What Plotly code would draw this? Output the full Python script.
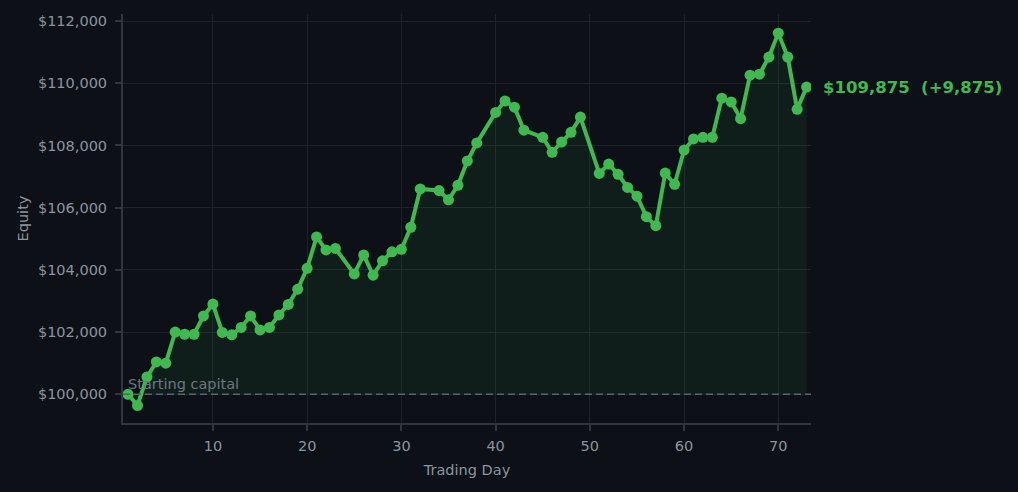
import plotly.graph_objects as go

days = [1, 2, 3, 4, 5, 6, 7, 8, 9, 10, 11, 12, 13, 14, 15, 16, 17, 18, 19, 20,
        21, 22, 23, 25, 26, 27, 28, 29, 30, 31, 32, 34, 35, 36, 37, 38, 40, 41, 42, 43,
        45, 46, 47, 48, 49, 51, 52, 53, 54, 55, 56, 57, 58, 59, 60, 61, 62, 63, 64, 65,
        66, 67, 68, 69, 70, 71, 72, 73]
equity = [100000, 99640, 100556, 101040, 101000, 102000, 101930, 101930, 102520, 102900,
          101990, 101910, 102150, 102520, 102070, 102150, 102550, 102890, 103380, 104050,
          105060, 104640, 104690, 103870, 104480, 103830, 104290, 104580, 104660, 105370,
          106600, 106550, 106250, 106720, 107500, 108080, 109060, 109430, 109230, 108490,
          108260, 107780, 108110, 108420, 108910, 107100, 107400, 107070, 106650, 106370,
          105710, 105420, 107110, 106750, 107850, 108210, 108260, 108260, 109520, 109400,
          108860, 110260, 110290, 110840, 111610, 110840, 109160, 109875]
start_capital = 100000
y_ticks = [100000, 102000, 104000, 106000, 108000, 110000, 112000]
y_tick_labels = ["$100,000", "$102,000", "$104,000", "$106,000", "$108,000", "$110,000", "$112,000"]
x_ticks = [10, 20, 30, 40, 50, 60, 70]

BG = "#0d1117"
GRID = "#1e232a"
AXIS = "#30363d"
TEXT = "#8b949e"
GREEN = "#3fb950"
FONT = "DejaVu Sans"
FS = 14.5

fig = go.Figure()
fig.add_trace(go.Scatter(x=days, y=[start_capital] * len(days), mode="lines",
                         line=dict(width=0), hoverinfo="skip", showlegend=False))
fig.add_trace(go.Scatter(x=days, y=equity, mode="lines+markers",
                         line=dict(color=GREEN, width=4),
                         marker=dict(color=GREEN, size=11),
                         fill="tonexty", fillcolor="rgba(63,185,80,0.08)",
                         showlegend=False))

fig.add_shape(type="line", xref="paper", yref="y", x0=0, x1=1,
              y0=start_capital, y1=start_capital,
              line=dict(color="#5a626c", width=1.6, dash="7px,4px"), layer="above")

fig.add_annotation(x=days[0], y=start_capital, xref="x", yref="y",
                   text="Starting capital", showarrow=False,
                   xanchor="left", yanchor="bottom", xshift=-2, yshift=0,
                   font=dict(family=FONT, size=FS, color="#6e7681"))

last = equity[-1]
fig.add_annotation(x=days[-1], y=last, xref="x", yref="y",
                   text=f"${last:,}  (+{last - start_capital:,})", showarrow=False,
                   xanchor="left", yanchor="middle", xshift=14,
                   font=dict(family=FONT, size=16.5, color=GREEN, weight="bold"))

fig.update_layout(
    width=1018, height=492,
    paper_bgcolor=BG, plot_bgcolor=BG,
    margin=dict(l=123, r=207, t=14, b=69),
    font=dict(family=FONT, size=FS, color=TEXT),
    xaxis=dict(range=[0.46, 73.47], tickvals=x_ticks, showgrid=True, gridcolor=GRID,
               showline=True, linecolor=AXIS, linewidth=2, ticks="outside",
               tickcolor=AXIS, ticklen=6, tickwidth=1.5, zeroline=False,
               ticklabelstandoff=3,
               title=dict(text="Trading Day", font=dict(size=FS, color=TEXT), standoff=11),
               tickfont=dict(size=FS, color=TEXT)),
    yaxis=dict(range=[99077, 112225], tickvals=y_ticks, ticktext=y_tick_labels,
               showgrid=True, gridcolor=GRID,
               showline=True, linecolor=AXIS, linewidth=2, ticks="outside",
               tickcolor=AXIS, ticklen=6, tickwidth=1.5, zeroline=False,
               ticklabelstandoff=5,
               title=dict(text="Equity", font=dict(size=FS, color=TEXT), standoff=6),
               tickfont=dict(size=FS, color=TEXT)),
)

fig.write_html("out.html")
